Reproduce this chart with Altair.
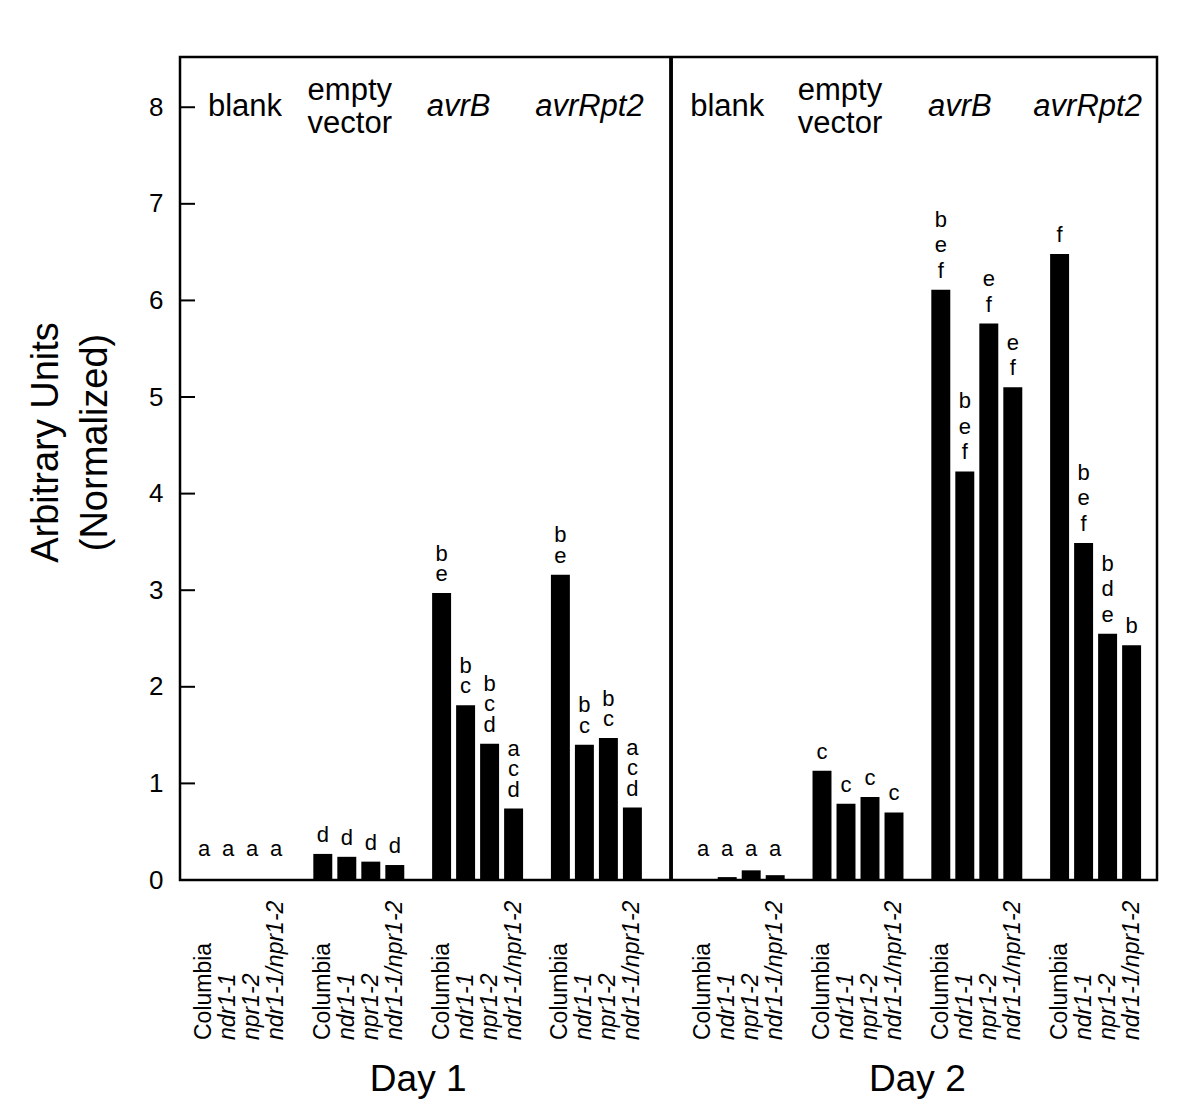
import altair as alt
import pandas as pd

# ---------------- data ----------------
days = ["Day 1", "Day 2"]
groups = ["blank", "empty\nvector", "avrB", "avrRpt2"]
genotypes = ["Columbia", "ndr1-1", "npr1-2", "ndr1-1/npr1-2"]

day1_blank = [0.0, 0.0, 0.0, 0.0]
day1_empty = [0.27, 0.24, 0.19, 0.155]
day1_avrB = [2.97, 1.81, 1.41, 0.74]
day1_avrRpt2 = [3.16, 1.40, 1.47, 0.75]

day2_blank = [0.0, 0.03, 0.10, 0.05]
day2_empty = [1.13, 0.79, 0.86, 0.70]
day2_avrB = [6.11, 4.23, 5.76, 5.10]
day2_avrRpt2 = [6.48, 3.49, 2.55, 2.43]

day1_letters = [
    ["a", "a", "a", "a"],
    ["d", "d", "d", "d"],
    ["b\ne", "b\nc", "b\nc\nd", "a\nc\nd"],
    ["b\ne", "b\nc", "b\nc", "a\nc\nd"],
]
day2_letters = [
    ["a", "a", "a", "a"],
    ["c", "c", "c", "c"],
    ["b\ne\nf", "b\ne\nf", "e\nf", "e\nf"],
    ["f", "b\ne\nf", "b\nd\ne", "b"],
]

y_ticks = [0, 1, 2, 3, 4, 5, 6, 7, 8]

# ---------------- layout (style only) ----------------
# small horizontal nudges (px) of the group headers, day 1 then day 2
HEADER_NUDGE_PX = [[5, -9, -19, -7], [-12, -18, -17, -8]]
# line spacing (px) of the significance letters, day 1 then day 2
LETTER_LINE_PX = [20.5, 25.5]

values = [
    [day1_blank, day1_empty, day1_avrB, day1_avrRpt2],
    [day2_blank, day2_empty, day2_avrB, day2_avrRpt2],
]
letters = [day1_letters, day2_letters]

rows, letter_rows = [], []
for d, day in enumerate(days):
    for g, grp in enumerate(groups):
        for b, gen in enumerate(genotypes):
            rows.append({"d": d, "g": g, "b": b, "day": day, "group": grp,
                         "genotype": gen, "value": values[d][g][b]})
            parts = letters[d][g][b].split("\n")
            for k, ch in enumerate(parts):
                letter_rows.append({"d": d, "g": g, "b": b, "value": values[d][g][b],
                                    "letter": ch, "lift": len(parts) - 1 - k,
                                    "lh": LETTER_LINE_PX[d]})
header_rows = []
for d, day in enumerate(days):
    for g, grp in enumerate(groups):
        parts = grp.split("\n")
        for k, line in enumerate(parts):
            header_rows.append({"d": d, "g": g, "line": line, "k": k, "n": len(parts),
                                "nudge": HEADER_NUDGE_PX[d][g]})

df = pd.DataFrame(rows)
letters_df = pd.DataFrame(letter_rows)
headers_df = pd.DataFrame(header_rows)
ticks_df = pd.DataFrame({"tick": y_ticks})

FONT = "Liberation Sans"
PX_PER_UNIT = 823 / 8.52
UNIT_PX = 24
xs = alt.Scale(domain=[0, 977 / UNIT_PX], nice=False, zero=False)
ys = alt.Scale(domain=[0, 8.52], nice=False, zero=True)
XPOS = "1 + datum.d * 20.8 + datum.g * 4.95 + datum.b"

base = alt.Chart(df).transform_calculate(xpos=XPOS).transform_calculate(
    x0="datum.xpos - 0.395",
    x1="datum.xpos + 0.395",
)

bars = base.mark_bar(color="black").encode(
    x=alt.X("x0:Q", scale=xs, axis=None),
    x2="x1:Q",
    y=alt.Y("value:Q", scale=ys, axis=alt.Axis(
        values=y_ticks, format="d", ticks=False, tickSize=0, domain=False, grid=False,
        labelFont=FONT, labelFontSize=26, labelColor="black", labelPadding=17,
        title=["Arbitrary Units", "(Normalized)"], titleFont=FONT,
        titleFontSize=38, titleFontWeight="normal", titleColor="black",
        titleAngle=270, titleX=-134, titleY=385, titleAlign="center",
        titleBaseline="middle", titleLineHeight=49,
    )),
    y2=alt.datum(0),
)

letter_text = alt.Chart(letters_df).transform_calculate(
    xpos=XPOS,
    ypos=f"max(datum.value, 0.12) + datum.lift * datum.lh / {PX_PER_UNIT}",
).mark_text(
    font=FONT, fontSize=22, baseline="bottom", dy=-7, color="black",
).encode(
    x=alt.X("xpos:Q", scale=xs),
    y=alt.Y("ypos:Q", scale=ys),
    text="letter:N",
)

geno_normal = base.transform_filter("datum.genotype == 'Columbia'").mark_text(
    angle=270, align="left", baseline="middle", font=FONT, fontSize=23, color="black",
).encode(x=alt.X("xpos:Q", scale=xs), y=alt.value(983), text="genotype:N")

geno_italic = base.transform_filter("datum.genotype != 'Columbia'").mark_text(
    angle=270, align="left", baseline="middle", font=FONT, fontSize=23,
    fontStyle="italic", color="black",
).encode(x=alt.X("xpos:Q", scale=xs), y=alt.value(983), text="genotype:N")

hdr = alt.Chart(headers_df).transform_calculate(
    xc=f"1 + datum.d * 20.8 + datum.g * 4.95 + 1.5 + datum.nudge / {UNIT_PX}",
    ypx="50 - (datum.n - 1) * 16.5 + datum.k * 33",
)
hdr_normal = hdr.transform_filter("datum.g < 2").mark_text(
    font=FONT, fontSize=31, baseline="middle", color="black",
).encode(x=alt.X("xc:Q", scale=xs), y=alt.Y("ypx:Q", scale=None), text="line:N")
hdr_italic = hdr.transform_filter("datum.g >= 2").mark_text(
    font=FONT, fontSize=31, baseline="middle", fontStyle="italic", color="black",
).encode(x=alt.X("xc:Q", scale=xs), y=alt.Y("ypx:Q", scale=None), text="line:N")

day_text = base.transform_aggregate(
    xc="mean(xpos)", groupby=["day"]
).mark_text(font=FONT, fontSize=37, baseline="middle", color="black").encode(
    x=alt.X("xc:Q", scale=xs), y=alt.value(1023), text="day:N"
)

tick_rules = alt.Chart(ticks_df).mark_rule(color="black", strokeWidth=2).encode(
    y=alt.Y("tick:Q", scale=ys), x=alt.value(0), x2=alt.value(15)
)

divider = alt.Chart(ticks_df).mark_rule(color="black", strokeWidth=2.5).encode(
    x=alt.datum(20.46, scale=xs)
)

chart = alt.layer(
    bars, tick_rules, divider, letter_text, geno_normal, geno_italic,
    hdr_normal, hdr_italic, day_text,
).properties(
    width=977, height=823,
    background="white",
    autosize=alt.AutoSizeParams(type="none"),
    padding={"left": 172, "top": 49, "right": 35, "bottom": 231},
).configure_view(
    stroke="black", strokeWidth=2.5
)

chart.save("out.html", embed_options={"renderer": "svg", "actions": False})
